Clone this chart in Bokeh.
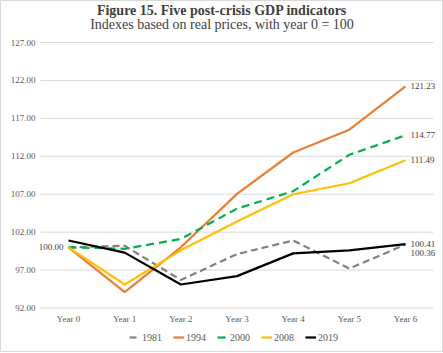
from bokeh.plotting import figure
from bokeh.models import Range1d, Legend, LegendItem
from bokeh.core.properties import value
from bokeh.embed import file_html
from bokeh.resources import INLINE

years = ["Year 0", "Year 1", "Year 2", "Year 3", "Year 4", "Year 5", "Year 6"]
s1981 = [100.00, 100.2, 95.7, 99.1, 100.9, 97.2, 100.36]
s1994 = [100.00, 94.1, 100.0, 107.05, 112.5, 115.5, 121.23]
s2000 = [100.00, 99.8, 101.1, 105.1, 107.4, 112.2, 114.77]
s2008 = [100.00, 95.1, 99.6, 103.4, 107.0, 108.45, 111.49]
s2019 = [100.9, 99.3, 95.1, 96.2, 99.2, 99.6, 100.41]
y_ticks = [92, 97, 102, 107, 112, 117, 122, 127]
title = "Figure 15. Five post-crisis GDP indicators"
subtitle = "Indexes based on real prices, with year 0 = 100"

FONT = "Liberation Serif"

# ---- pixel layout (style only) ----
W, H, FRAME_H = 443, 353, 351
X_FIRST_PX, X_LAST_PX = 68, 405      # centres of first / last category
Y_TOP_PX, Y_BOT_PX = 42, 307.5       # top / bottom gridline
n = len(years)
xs = list(range(n))
ux = (X_LAST_PX - X_FIRST_PX) / (n - 1)
ymax, ymin = y_ticks[-1], y_ticks[0]
uy = (Y_BOT_PX - Y_TOP_PX) / (ymax - ymin)


def px_x(px):
    return (px - X_FIRST_PX) / ux


def px_y(py):
    return ymax - (py - Y_TOP_PX) / uy


p = figure(width=W, height=H,
           x_range=Range1d(px_x(0), px_x(W)), y_range=Range1d(px_y(FRAME_H), px_y(0)),
           x_axis_location=None, y_axis_location=None,
           output_backend="svg", toolbar_location=None, title=None,
           min_border=0, min_border_bottom=H - FRAME_H)
p.grid.visible = False
p.outline_line_color = "#d9d9d9"
p.background_fill_color = "white"
p.border_fill_color = "white"

# gridlines
gx0, gx1 = -0.5, n - 0.5
p.segment(x0=[gx0] * len(y_ticks), y0=y_ticks, x1=[gx1] * len(y_ticks), y1=y_ticks,
          line_color="#d9d9d9", line_width=1)

# tick labels
p.text(x=[gx0] * len(y_ticks), y=y_ticks, text=["%.2f" % t for t in y_ticks],
       text_align="right", text_baseline="middle", x_offset=-5,
       text_font=value(FONT), text_font_size="9px", text_color="#595959")
p.text(x=xs, y=[ymin] * n, text=years, text_align="center", text_baseline="middle",
       y_offset=10.5, text_font=value(FONT), text_font_size="9px", text_color="#595959")

# series
lw = 2.2
r1981 = p.line(xs, s1981, line_color="#808080", line_width=lw, line_dash="7 4")
r1994 = p.line(xs, s1994, line_color="#ED7D31", line_width=lw)
r2000 = p.line(xs, s2000, line_color="#00B050", line_width=lw, line_dash="8 5")
r2008 = p.line(xs, s2008, line_color="#FFC000", line_width=lw)
r2019 = p.line(xs, s2019, line_color="#000000", line_width=lw)

# data labels
lab_kw = dict(text_font=value(FONT), text_font_size="9px", text_color="#404040",
              text_baseline="middle")
last = n - 1
p.text([xs[0]], [s1981[0]], text=["%.2f" % s1981[0]], text_align="right", x_offset=-5, **lab_kw)
p.text([xs[last]], [s1994[last]], text=["%.2f" % s1994[last]], text_align="left", x_offset=5, **lab_kw)
p.text([xs[last]], [s2000[last]], text=["%.2f" % s2000[last]], text_align="left", x_offset=5, **lab_kw)
p.text([xs[last]], [s2008[last]], text=["%.2f" % s2008[last]], text_align="left", x_offset=5, **lab_kw)
p.text([xs[last]], [s2019[last]], text=["%.2f" % s2019[last]], text_align="left", x_offset=5, **lab_kw)
p.text([xs[last]], [s1981[last]], text=["%.2f" % s1981[last]], text_align="left", x_offset=5,
       y_offset=8, **lab_kw)

# titles
p.text([px_x(221.5)], [px_y(9.5)], text=[title], text_align="center", text_baseline="middle",
       text_font=value(FONT), text_font_size="14px", text_font_style="bold", text_color="#404040")
p.text([px_x(221.5)], [px_y(24)], text=[subtitle], text_align="center", text_baseline="middle",
       text_font=value(FONT), text_font_size="14px", text_color="#404040")

legend = Legend(items=[LegendItem(label="1981", renderers=[r1981]),
                       LegendItem(label="1994", renderers=[r1994]),
                       LegendItem(label="2000", renderers=[r2000]),
                       LegendItem(label="2008", renderers=[r2008]),
                       LegendItem(label="2019", renderers=[r2019])],
                orientation="horizontal", location=(129, 8),
                label_text_font=FONT, label_text_font_size="10px", label_text_color="#595959",
                glyph_width=11, glyph_height=10, label_height=12, label_standoff=2, spacing=11,
                border_line_color=None, background_fill_alpha=0, padding=0, margin=0)
p.add_layout(legend, "center")

open("out.html", "w").write(file_html(p, INLINE))
